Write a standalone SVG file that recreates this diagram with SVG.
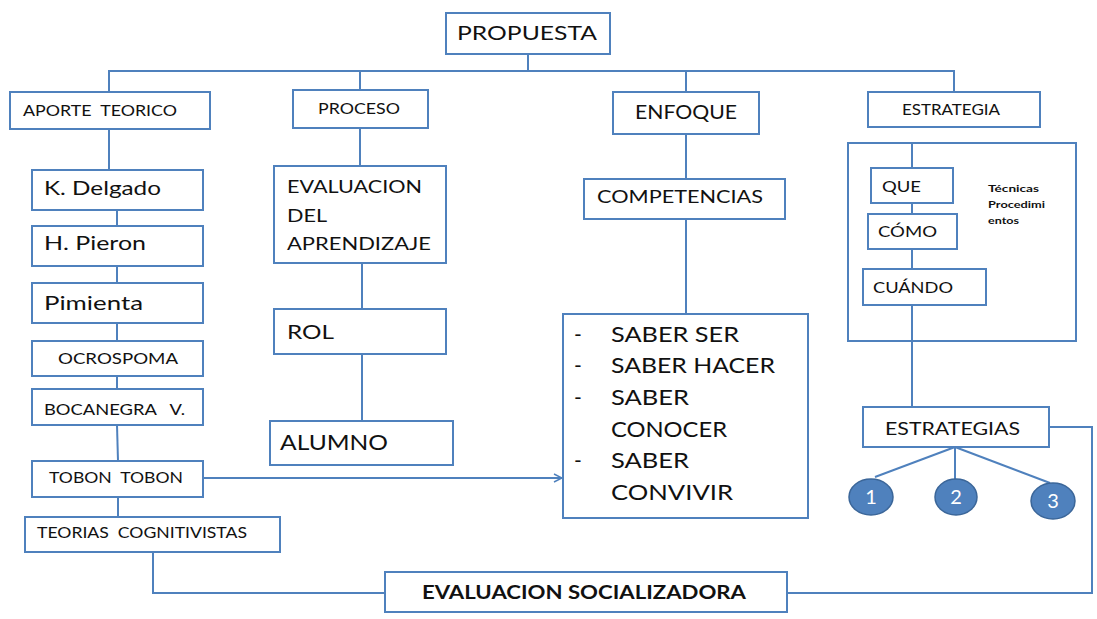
<svg xmlns="http://www.w3.org/2000/svg" width="1097" height="619" viewBox="0 0 1097 619">
<defs>
<style>
.box{fill:#fff;stroke:#4F81BD;stroke-width:2}
.ln{fill:none;stroke:#4F81BD;stroke-width:2}
.t{font-family:Lato,"Liberation Sans",sans-serif;fill:#111;white-space:pre}
.c{fill:#4F81BD;stroke:#3B6699;stroke-width:1.5}
.ct{font-family:Lato,"Liberation Sans",sans-serif;fill:#fff;font-size:20px;text-anchor:middle}
</style>
<marker id="arr" viewBox="0 0 10 10" refX="9" refY="5" markerWidth="10" markerHeight="10" markerUnits="userSpaceOnUse" orient="auto">
<polyline points="1,1 9,5 1,9" fill="none" stroke="#4F81BD" stroke-width="1.5"/>
</marker>
</defs>
<rect width="1097" height="619" fill="#fff"/>
<g id="connectors">
<polyline class="ln" points="528,54 528,71"/>
<polyline class="ln" points="109,92 109,71 954,71 954,92"/>
<line class="ln" x1="360" y1="71" x2="360" y2="90"/>
<line class="ln" x1="686" y1="71" x2="686" y2="92"/>
<line class="ln" x1="109" y1="129" x2="109" y2="170"/>
<line class="ln" x1="117" y1="210" x2="117" y2="226"/>
<line class="ln" x1="117" y1="266" x2="117" y2="283"/>
<line class="ln" x1="117" y1="323" x2="117" y2="341"/>
<line class="ln" x1="117" y1="376" x2="117" y2="389"/>
<line class="ln" x1="117" y1="425" x2="118" y2="461"/>
<line class="ln" x1="118" y1="497" x2="118" y2="517"/>
<line class="ln" x1="203" y1="478" x2="562" y2="478" marker-end="url(#arr)"/>
<polyline class="ln" points="153,552 153,593 385,593"/>
<line class="ln" x1="360" y1="128" x2="360" y2="166"/>
<line class="ln" x1="362" y1="263" x2="362" y2="309"/>
<line class="ln" x1="362" y1="354" x2="362" y2="421"/>
<line class="ln" x1="686" y1="134" x2="686" y2="179"/>
<line class="ln" x1="686" y1="219" x2="686" y2="314"/>
<line class="ln" x1="912" y1="143" x2="912" y2="407"/>
<polyline class="ln" points="1049,427 1092,427 1092,593 787,593"/>
<line class="ln" x1="955" y1="447" x2="875" y2="477"/>
<line class="ln" x1="955" y1="447" x2="955" y2="479"/>
<line class="ln" x1="955" y1="447" x2="1050" y2="483"/>
</g>
<g id="propuesta"><rect class="box" x="446" y="13" width="164" height="41"/><text class="t" x="457" y="40" font-size="20" textLength="140" lengthAdjust="spacingAndGlyphs">PROPUESTA</text></g>
<g id="aporte"><rect class="box" x="10" y="92" width="200" height="37"/><text class="t" x="23" y="116" font-size="15" textLength="154" lengthAdjust="spacingAndGlyphs">APORTE  TEORICO</text></g>
<g id="proceso"><rect class="box" x="293" y="90" width="135" height="38"/><text class="t" x="318" y="114" font-size="15" textLength="82" lengthAdjust="spacingAndGlyphs">PROCESO</text></g>
<g id="enfoque"><rect class="box" x="613" y="92" width="146" height="42"/><text class="t" x="635" y="119" font-size="19" textLength="102" lengthAdjust="spacingAndGlyphs">ENFOQUE</text></g>
<g id="estrategia"><rect class="box" x="868" y="92" width="172" height="35"/><text class="t" x="902" y="115" font-size="15" textLength="98" lengthAdjust="spacingAndGlyphs">ESTRATEGIA</text></g>
<g id="kdelgado"><rect class="box" x="32" y="170" width="171" height="40"/><text class="t" x="44" y="195" font-size="19" textLength="117" lengthAdjust="spacingAndGlyphs">K. Delgado</text></g>
<g id="hpieron"><rect class="box" x="32" y="226" width="171" height="40"/><text class="t" x="44" y="250" font-size="19" textLength="102" lengthAdjust="spacingAndGlyphs">H. Pieron</text></g>
<g id="pimienta"><rect class="box" x="32" y="283" width="171" height="40"/><text class="t" x="44" y="310" font-size="19" textLength="99" lengthAdjust="spacingAndGlyphs">Pimienta</text></g>
<g id="ocrospoma"><rect class="box" x="32" y="341" width="171" height="35"/><text class="t" x="58" y="364" font-size="15" textLength="120" lengthAdjust="spacingAndGlyphs">OCROSPOMA</text></g>
<g id="bocanegra"><rect class="box" x="32" y="389" width="171" height="36"/><text class="t" x="44" y="415" font-size="15" textLength="141" lengthAdjust="spacingAndGlyphs">BOCANEGRA   V.</text></g>
<g id="tobon"><rect class="box" x="32" y="461" width="171" height="36"/><text class="t" x="49" y="483" font-size="15" textLength="134" lengthAdjust="spacingAndGlyphs">TOBON  TOBON</text></g>
<g id="teorias"><rect class="box" x="25" y="517" width="255" height="35"/><text class="t" x="37" y="538" font-size="15" textLength="210" lengthAdjust="spacingAndGlyphs">TEORIAS  COGNITIVISTAS</text></g>
<g id="evaluacion-aprendizaje"><rect class="box" x="274" y="166" width="172" height="97"/>
<text class="t" x="287" y="193" font-size="18" textLength="135" lengthAdjust="spacingAndGlyphs">EVALUACION</text>
<text class="t" x="287" y="222" font-size="18" textLength="40" lengthAdjust="spacingAndGlyphs">DEL</text>
<text class="t" x="287" y="250" font-size="18" textLength="144" lengthAdjust="spacingAndGlyphs">APRENDIZAJE</text></g>
<g id="rol"><rect class="box" x="274" y="309" width="172" height="45"/><text class="t" x="287" y="339" font-size="20" textLength="47" lengthAdjust="spacingAndGlyphs">ROL</text></g>
<g id="alumno"><rect class="box" x="270" y="421" width="183" height="44"/><text class="t" x="280" y="450" font-size="21" textLength="108" lengthAdjust="spacingAndGlyphs">ALUMNO</text></g>
<g id="competencias"><rect class="box" x="584" y="179" width="201" height="40"/><text class="t" x="597" y="203" font-size="18" textLength="166" lengthAdjust="spacingAndGlyphs">COMPETENCIAS</text></g>
<g id="saberes"><rect class="box" x="563" y="314" width="245" height="204"/>
<g class="t" font-size="21">
<text x="574" y="342">-</text><text x="611" y="342" textLength="128" lengthAdjust="spacingAndGlyphs">SABER SER</text>
<text x="574" y="373">-</text><text x="611" y="373" textLength="164" lengthAdjust="spacingAndGlyphs">SABER HACER</text>
<text x="574" y="405">-</text><text x="611" y="405" textLength="78" lengthAdjust="spacingAndGlyphs">SABER</text>
<text x="611" y="437" textLength="116" lengthAdjust="spacingAndGlyphs">CONOCER</text>
<text x="574" y="468">-</text><text x="611" y="468" textLength="78" lengthAdjust="spacingAndGlyphs">SABER</text>
<text x="611" y="500" textLength="122" lengthAdjust="spacingAndGlyphs">CONVIVIR</text>
</g></g>
<g id="estrategia-contenedor"><rect x="848" y="143" width="228" height="198" fill="none" stroke="#4F81BD" stroke-width="2"/>
<text class="t" x="988" y="192" font-size="9" font-weight="bold" textLength="51" lengthAdjust="spacingAndGlyphs">Técnicas</text>
<text class="t" x="988" y="208" font-size="9" font-weight="bold" textLength="57" lengthAdjust="spacingAndGlyphs">Procedimi</text>
<text class="t" x="988" y="224" font-size="9" font-weight="bold" textLength="31" lengthAdjust="spacingAndGlyphs">entos</text></g>
<g id="que"><rect class="box" x="871" y="168" width="82" height="35"/><text class="t" x="882" y="192" font-size="16" textLength="39" lengthAdjust="spacingAndGlyphs">QUE</text></g>
<g id="como"><rect class="box" x="868" y="214" width="89" height="35"/><text class="t" x="878" y="237" font-size="16" textLength="59" lengthAdjust="spacingAndGlyphs">CÓMO</text></g>
<g id="cuando"><rect class="box" x="863" y="269" width="123" height="36"/><text class="t" x="873" y="293" font-size="16" textLength="80" lengthAdjust="spacingAndGlyphs">CUÁNDO</text></g>
<g id="estrategias"><rect class="box" x="863" y="407" width="186" height="40"/><text class="t" x="885" y="435" font-size="18" textLength="135" lengthAdjust="spacingAndGlyphs">ESTRATEGIAS</text></g>
<g id="n1"><ellipse class="c" cx="871" cy="497" rx="22" ry="18"/><text class="ct" x="871" y="504">1</text></g>
<g id="n2"><ellipse class="c" cx="956" cy="497" rx="21" ry="18"/><text class="ct" x="956" y="504">2</text></g>
<g id="n3"><ellipse class="c" cx="1053" cy="501" rx="22" ry="18"/><text class="ct" x="1053" y="508">3</text></g>
<g id="evaluacion-socializadora"><rect class="box" x="385" y="572" width="402" height="40"/><text class="t" x="422" y="599" font-size="19" font-weight="bold" textLength="324" lengthAdjust="spacingAndGlyphs">EVALUACION SOCIALIZADORA</text></g>
</svg>
